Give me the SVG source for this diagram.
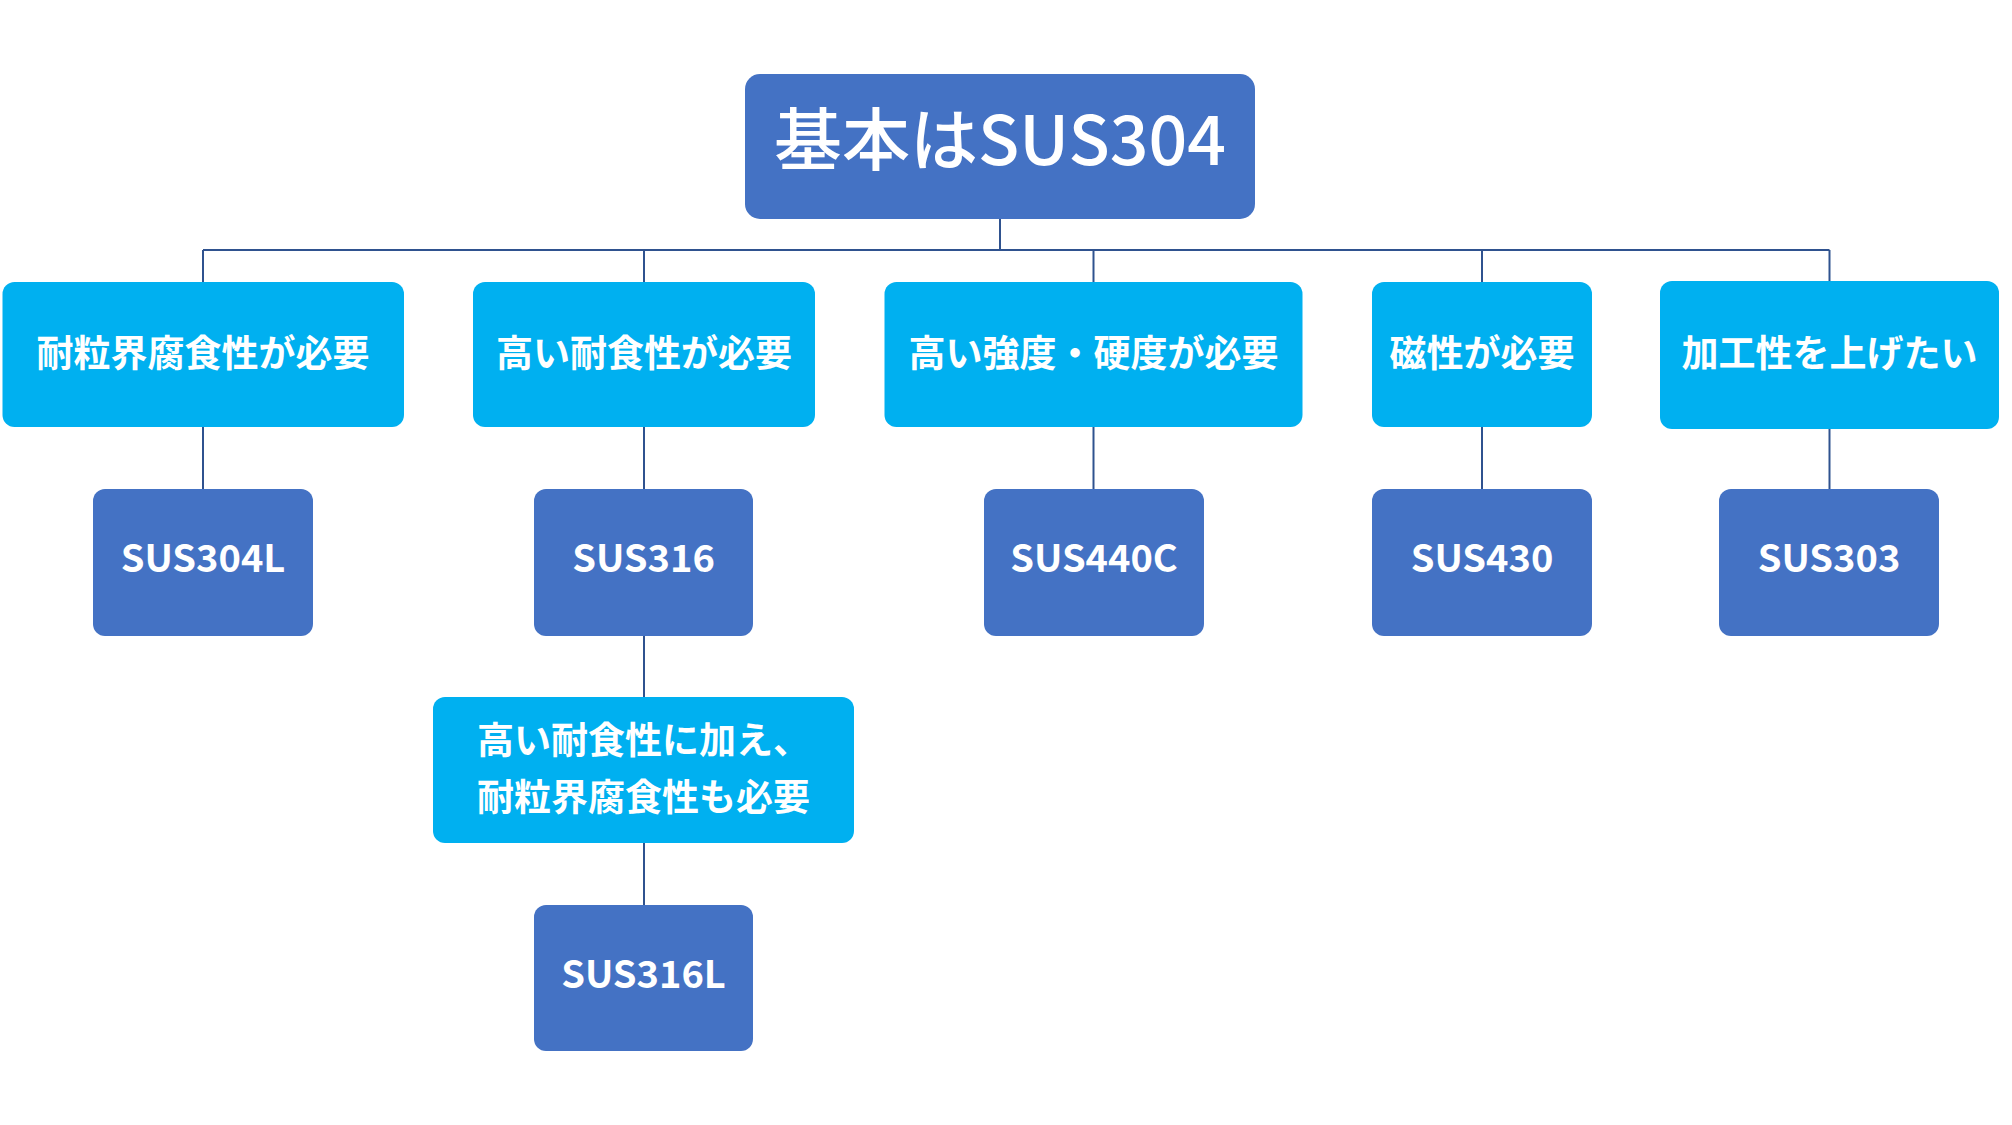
<svg xmlns="http://www.w3.org/2000/svg" width="2012" height="1125" viewBox="0 0 2012 1125">
<style>
.root{fill:#4472C4;}
.cond{fill:#00B0F0;}
.grade{fill:#4472C4;}
text{fill:#FFFFFF;font-family:"Noto Sans CJK JP","Noto Sans",sans-serif;text-anchor:middle;}
.t0{font-size:68px;font-weight:500;}
.t1{font-size:37px;font-weight:700;}
.t2{font-size:38px;font-weight:700;}
.conn path{fill:none;stroke:#2F528F;stroke-width:2;}
</style>
<rect width="2012" height="1125" fill="#FFFFFF"/>
<g class="conn">
<path d="M1000,219 V250"/>
<path d="M203,250 H1829.5"/>
<path d="M203,250 V282"/>
<path d="M644,250 V282"/>
<path d="M1093.5,250 V282"/>
<path d="M1482,250 V282"/>
<path d="M1829.5,250 V281"/>
<path d="M203,427 V489"/>
<path d="M644,427 V489"/>
<path d="M1093.5,427 V489"/>
<path d="M1482,427 V489"/>
<path d="M1829.5,429 V489"/>
<path d="M644,636 V697"/>
<path d="M644,843 V905"/>
</g>
<g id="root">
<rect class="root" x="745" y="74" width="510" height="145" rx="15"/>
<text class="t0" x="1000" y="165">基本はSUS304</text>
</g>
<g id="c1">
<rect class="cond" x="2.5" y="282" width="401.5" height="145" rx="12"/>
<text class="t1" x="203" y="367">耐粒界腐食性が必要</text>
</g>
<g id="c2">
<rect class="cond" x="473" y="282" width="342" height="145" rx="12"/>
<text class="t1" x="644" y="367">高い耐食性が必要</text>
</g>
<g id="c3">
<rect class="cond" x="884.5" y="282" width="418" height="145" rx="12"/>
<text class="t1" x="1093.5" y="367">高い強度・硬度が必要</text>
</g>
<g id="c4">
<rect class="cond" x="1372" y="282" width="220" height="145" rx="12"/>
<text class="t1" x="1482" y="367">磁性が必要</text>
</g>
<g id="c5">
<rect class="cond" x="1660" y="281" width="339" height="148" rx="12"/>
<text class="t1" x="1829.5" y="367">加工性を上げたい</text>
</g>
<g id="g1">
<rect class="grade" x="93" y="489" width="220" height="147" rx="12"/>
<text class="t2" x="203" y="572">SUS304L</text>
</g>
<g id="g2">
<rect class="grade" x="534" y="489" width="219" height="147" rx="12"/>
<text class="t2" x="643.5" y="572">SUS316</text>
</g>
<g id="g3">
<rect class="grade" x="984" y="489" width="220" height="147" rx="12"/>
<text class="t2" x="1094" y="572">SUS440C</text>
</g>
<g id="g4">
<rect class="grade" x="1372" y="489" width="220" height="147" rx="12"/>
<text class="t2" x="1482" y="572">SUS430</text>
</g>
<g id="g5">
<rect class="grade" x="1719" y="489" width="220" height="147" rx="12"/>
<text class="t2" x="1829" y="572">SUS303</text>
</g>
<g id="c6">
<rect class="cond" x="433" y="697" width="421" height="146" rx="12"/>
<text class="t1" x="643.5" y="754">高い耐食性に加え、</text>
<text class="t1" x="643.5" y="811">耐粒界腐食性も必要</text>
</g>
<g id="g6">
<rect class="grade" x="534" y="905" width="219" height="146" rx="12"/>
<text class="t2" x="643.5" y="988">SUS316L</text>
</g>
</svg>
